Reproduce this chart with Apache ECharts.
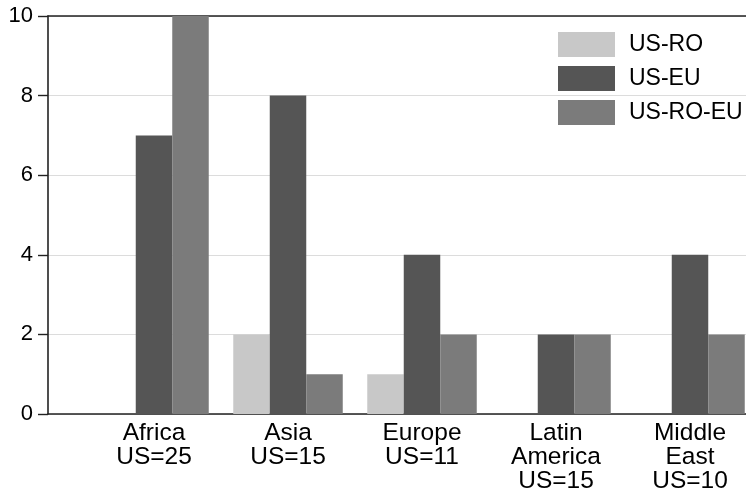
<!DOCTYPE html>
<html><head><meta charset="utf-8">
<script src="https://cdn.jsdelivr.net/npm/echarts@6/dist/echarts.min.js"></script>
<style>html,body{margin:0;padding:0;background:#fff}#c{width:746px;height:495px}</style>
</head><body><div id="c"></div>
<script>
const categories = ['Africa\nUS=25', 'Asia\nUS=15', 'Europe\nUS=11', 'Latin\nAmerica\nUS=15', 'Middle\nEast\nUS=10'];
const seriesNames = ['US-RO', 'US-EU', 'US-RO-EU'];
const usRO = [0, 2, 1, 0, 0];
const usEU = [7, 8, 4, 2, 4];
const usROEU = [10, 1, 2, 2, 2];
const yTicks = [0, 2, 4, 6, 8, 10];

const colors = ['#c8c8c8', '#555555', '#7b7b7b'];
const font = 'Liberation Sans, Arial, Helvetica, sans-serif';
const chart = echarts.init(document.getElementById('c'));
const values = [usRO, usEU, usROEU];
chart.setOption({
  animation: false,
  backgroundColor: '#fff',
  legend: {
    left: 558, top: 32, orient: 'vertical', itemWidth: 57, itemHeight: 25, itemGap: 9, padding: 0,
    icon: 'rect',
    textStyle: { fontSize: 23, color: '#000', fontFamily: font, padding: [0, 0, 0, 9] },
    data: seriesNames
  },
  grid: [
    { left: 48, right: 0, top: 16, bottom: 81, outerBoundsMode: 'none' },
    { left: 87, width: 670, top: 16, bottom: 81, outerBoundsMode: 'none', containLabel: false }
  ],
  xAxis: [
    { gridIndex: 0, type: 'value', min: 0, max: 1, position: 'bottom',
      axisLine: { show: true, onZero: false, lineStyle: { color: '#222', width: 1.6 } },
      axisTick: { show: false }, axisLabel: { show: false }, splitLine: { show: false } },
    { gridIndex: 0, type: 'value', min: 0, max: 1, position: 'top',
      axisLine: { show: true, onZero: false, lineStyle: { color: '#222', width: 1.6 } },
      axisTick: { show: false }, axisLabel: { show: false }, splitLine: { show: false } },
    { gridIndex: 1, type: 'category', data: categories,
      axisLine: { show: false }, axisTick: { show: false },
      axisLabel: { margin: 7, fontSize: 24.5, lineHeight: 24, color: '#000', fontFamily: font, interval: 0 } }
  ],
  yAxis: [
    { gridIndex: 0, type: 'value', min: 0, max: 10, interval: 2,
      axisLine: { show: true, lineStyle: { color: '#222', width: 1.6 } },
      axisTick: { show: true, length: 10, lineStyle: { color: '#222', width: 1.4 } },
      axisLabel: { margin: 15, fontSize: 22, color: '#000', fontFamily: font,
        formatter: v => yTicks.includes(v) ? String(v) : '' },
      splitLine: { show: true, lineStyle: { color: '#dcdcdc', width: 1 } } },
    { gridIndex: 1, type: 'value', min: 0, max: 10, show: false, splitLine: { show: false } }
  ],
  series: seriesNames.map((n, i) => ({
    name: n, type: 'bar', xAxisIndex: 2, yAxisIndex: 1, data: values[i],
    barWidth: 36.5, barGap: '0%',
    itemStyle: { color: colors[i] }
  }))
});
</script></body></html>
